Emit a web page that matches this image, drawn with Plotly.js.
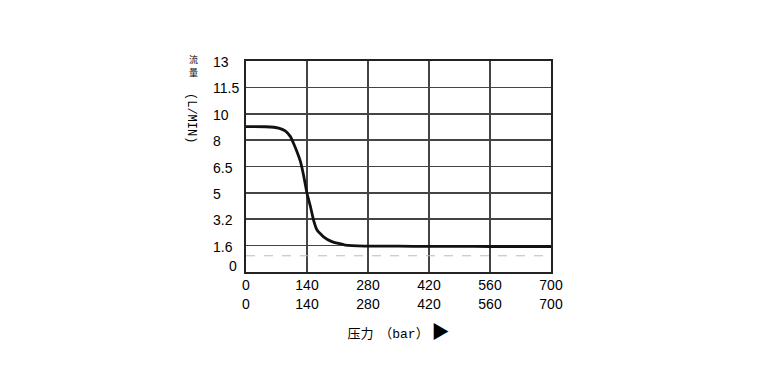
<!DOCTYPE html>
<html>
<head>
<meta charset="utf-8">
<script src="https://cdn.plot.ly/plotly-3.0.1.min.js"></script>
<style>html,body{margin:0;padding:0;background:#fff;}#chart{width:759px;height:382px;}</style>
</head>
<body>
<div id="chart"></div>
<script>
// Pressure (bar) vs flow (L/min)
const pressure = [0, 45, 75, 90, 102, 109, 117, 125, 132, 140, 148, 155, 163, 178, 197, 228, 273, 350, 420, 490, 560, 630, 700];
const flow     = [8.96, 8.95, 8.87, 8.69, 8.34, 7.93, 7.41, 6.80, 5.98, 4.85, 4.02, 3.20, 2.59, 2.17, 1.87, 1.66, 1.60, 1.59, 1.58, 1.58, 1.57, 1.57, 1.57];
const refPressure = [0, 700];
const refFlow = [1.0, 1.0];
const xTicks = [0, 140, 280, 420, 560, 700];
const yTickLabels = ['0', '1.6', '3.2', '5', '6.5', '8', '10', '11.5', '13'];
const yTitleCJK = ['流', '量'];
const yTitleUnit = '(L/MIN)';
const yMax = 13;

const n = yTickLabels.length - 1;
const yGrid = yTickLabels.map((_, i) => i * yMax / n);
const tickFont = {family: 'Liberation Sans', size: 14, color: '#000'};

const annotations = yTickLabels.map((t, i) => ({
  text: t, xref: 'paper', yref: 'y', x: 0, y: yGrid[i],
  xanchor: 'left', yanchor: 'middle', showarrow: false,
  xshift: (i === 0 ? -19 : -35), yshift: (i === 0 ? 6 : -1),
  font: tickFont
}));
yTitleCJK.forEach((ch, i) => annotations.push({
  text: ch, xref: 'paper', yref: 'paper', x: 0, y: 1, xanchor: 'center', yanchor: 'middle',
  xshift: -53, yshift: 2 - i * 13, showarrow: false, borderpad: 0,
  font: {family: 'Noto Sans CJK SC', size: 9, color: '#000'}
}));
annotations.push({
  text: yTitleUnit, textangle: 90, xref: 'paper', yref: 'paper', x: 0, y: 1, xanchor: 'center', yanchor: 'middle',
  xshift: -55, yshift: -57, showarrow: false,
  font: {family: 'Liberation Mono', size: 12, color: '#000'}
});

const data = [
  {x: refPressure, y: refFlow, mode: 'lines', line: {color: '#bbb', width: 1, dash: '9px,9px'}, hoverinfo: 'skip', showlegend: false},
  {x: pressure, y: flow, mode: 'lines', line: {color: '#111', width: 2.8, shape: 'spline', smoothing: 0.4}, showlegend: false}
];

const layout = {
  width: 759, height: 382,
  margin: {l: 245.5, r: 207.5, t: 61, b: 110},
  paper_bgcolor: '#fff', plot_bgcolor: '#fff',
  showlegend: false,
  xaxis: {
    range: [0, 700], tickvals: xTicks,
    ticktext: xTicks.map(v => v + '<br>' + v),
    showgrid: true, gridcolor: '#444', gridwidth: 1.6,
    showline: true, linecolor: '#222', linewidth: 1.6, mirror: true,
    zeroline: false, ticks: '',
    tickfont: tickFont,
    title: {text: '压力  （<span style="font-family:Liberation Mono">bar</span>） <span style="font-size:18px">▶</span>', standoff: 18,
            font: {family: 'Noto Sans CJK SC', size: 13, color: '#000'}}
  },
  yaxis: {
    range: [0, yMax], tickvals: yGrid, showticklabels: false,
    showgrid: true, gridcolor: '#444', gridwidth: 1.6,
    showline: true, linecolor: '#222', linewidth: 1.6, mirror: true,
    zeroline: false, ticks: ''
  },
  annotations: annotations
};

Plotly.newPlot('chart', data, layout, {displayModeBar: false, staticPlot: true});
</script>
</body>
</html>
